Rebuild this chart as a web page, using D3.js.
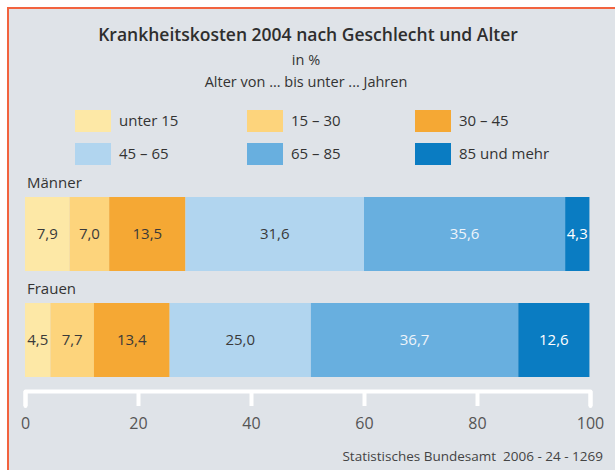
<!DOCTYPE html>
<html>
<head>
<meta charset="utf-8">
<script src="https://cdn.jsdelivr.net/npm/d3@7"></script>
<style>
  body { margin: 0; background: #fff; }
  svg { display: block; font-family: "Open Sans", sans-serif; }
</style>
</head>
<body>
<svg id="chart" width="615" height="470"></svg>
<script>
// data
const groups = ["Männer", "Frauen"];
const ageClasses = ["unter 15", "15 – 30", "30 – 45", "45 – 65", "65 – 85", "85 und mehr"];
const maenner = [7.9, 7.0, 13.5, 31.6, 35.6, 4.3];
const frauen = [4.5, 7.7, 13.4, 25.0, 36.7, 12.6];
const xTicks = [0, 20, 40, 60, 80, 100];

const colors = ["#fde8a6", "#fdd47c", "#f5a834", "#b1d5ef", "#68afdf", "#0a7cc2"];
const labelColors = ["#3a3a3a", "#3a3a3a", "#3a3a3a", "#3a3a3a", "#eef4fa", "#ffffff"];

const de = d3.formatLocale({decimal: ",", thousands: ".", grouping: [3], currency: ["", " €"]});
const fmt = de.format(".1f");

let svg = d3.select("#chart");

// frame
svg.append("rect")
    .attr("x", 8).attr("y", 8)
    .attr("width", 640).attr("height", 500)
    .attr("fill", "#dfe3e8")
    .attr("stroke", "#f2633f")
    .attr("stroke-width", 2);

// titles
svg.append("text")
    .attr("x", 308).attr("y", 41)
    .attr("text-anchor", "middle")
    .attr("font-size", "17.5px").attr("font-weight", 600)
    .attr("fill", "#2e2e2e")
    .text("Krankheitskosten 2004 nach Geschlecht und Alter");
svg.append("text")
    .attr("x", 306).attr("y", 65)
    .attr("text-anchor", "middle")
    .attr("font-size", "14.5px").attr("fill", "#333")
    .text("in %");
svg.append("text")
    .attr("x", 306).attr("y", 87)
    .attr("text-anchor", "middle")
    .attr("font-size", "14.5px").attr("fill", "#333")
    .text("Alter von ... bis unter ... Jahren");

// legend
const legX = [75, 247, 415];
const legY = [110, 143];
let legend = svg.append("g");
ageClasses.forEach((c, i) => {
    let col = i % 3, row = Math.floor(i / 3);
    legend.append("rect")
        .attr("x", legX[col]).attr("y", legY[row])
        .attr("width", 36).attr("height", 22)
        .attr("fill", colors[i]);
    legend.append("text")
        .attr("x", legX[col] + 44).attr("y", legY[row] + 16)
        .attr("font-size", "15px").attr("fill", "#333")
        .text(c);
});

// scales
const x = d3.scaleLinear().domain([0, 100]).range([25, 590]);
const barTop = [197, 303];
const barH = 74;

[maenner, frauen].forEach((vals, gi) => {
    let g = svg.append("g");
    g.append("text")
        .attr("x", 27).attr("y", barTop[gi] - 9)
        .attr("font-size", "15px").attr("fill", "#333")
        .text(groups[gi]);
    let cum = 0;
    vals.forEach((v, i) => {
        let x0 = x(cum), x1 = x(cum + v);
        cum += v;
        g.append("rect")
            .attr("x", x0).attr("y", barTop[gi])
            .attr("width", x1 - x0).attr("height", barH)
            .attr("fill", colors[i]);
        g.append("text")
            .attr("x", (x0 + x1) / 2).attr("y", barTop[gi] + barH / 2 + 5)
            .attr("text-anchor", "middle")
            .attr("font-size", "15px").attr("font-weight", 500)
            .attr("fill", labelColors[i])
            .text(fmt(v));
    });
});

// axis
const xAxis = d3.axisBottom(x).tickValues(xTicks).tickSize(15).tickPadding(12).tickFormat(d3.format("d"));
let ax = svg.append("g")
    .attr("transform", "translate(0, 391)")
    .call(xAxis);
ax.select(".domain")
    .attr("stroke", "#ffffff").attr("stroke-width", 4)
    .attr("stroke-linejoin", "round").attr("stroke-linecap", "round");
ax.selectAll(".tick line")
    .attr("stroke", "#ffffff").attr("stroke-width", 4);
ax.selectAll(".tick text")
    .attr("font-size", "16px").attr("fill", "#555")
    .attr("font-family", "Open Sans, sans-serif");

// source
svg.append("text")
    .attr("x", 603).attr("y", 461)
    .attr("text-anchor", "end")
    .attr("font-size", "13.5px").attr("fill", "#444")
    .style("white-space", "pre")
    .text("Statistisches Bundesamt  2006 - 24 - 1269");
</script>
</body>
</html>
